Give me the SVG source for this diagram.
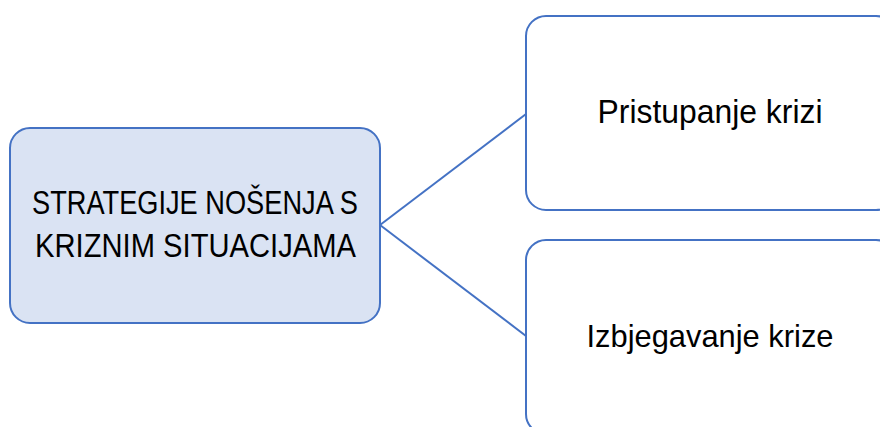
<svg xmlns="http://www.w3.org/2000/svg" width="880" height="427" viewBox="0 0 880 427">
<style>
.box{stroke:#4472c4;stroke-width:2}
.root{fill:#dae3f3}
.leaf{fill:#ffffff}
.conn{stroke:#4472c4;stroke-width:2;fill:none}
text{font-family:"Liberation Sans",Arial,sans-serif;fill:#000000;text-anchor:middle}
</style>
<rect width="880" height="427" fill="#ffffff"/>
<g id="connectors">
<line class="conn" x1="380" y1="225" x2="526" y2="114"/>
<line class="conn" x1="380" y1="225" x2="526" y2="336"/>
</g>
<g id="node-root">
<rect class="box root" x="10" y="128" width="370" height="195" rx="20" ry="20"/>
<text x="195" y="214.3" font-size="33" textLength="326" lengthAdjust="spacingAndGlyphs">STRATEGIJE NOŠENJA S</text>
<text x="195.5" y="257.2" font-size="33" textLength="321" lengthAdjust="spacingAndGlyphs">KRIZNIM SITUACIJAMA</text>
</g>
<g id="node-pristupanje">
<rect class="box leaf" x="526" y="16" width="370" height="194" rx="20" ry="20"/>
<text x="710" y="123.3" font-size="32.5" textLength="225" lengthAdjust="spacingAndGlyphs">Pristupanje krizi</text>
</g>
<g id="node-izbjegavanje">
<rect class="box leaf" x="526" y="240" width="370" height="194" rx="20" ry="20"/>
<text x="710" y="347.2" font-size="31.5" textLength="247" lengthAdjust="spacingAndGlyphs">Izbjegavanje krize</text>
</g>
</svg>
